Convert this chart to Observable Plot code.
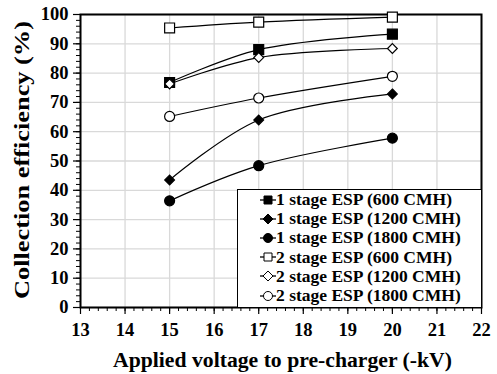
<!DOCTYPE html>
<html><head><meta charset="utf-8">
<script src="https://cdn.jsdelivr.net/npm/d3@7"></script>
<script src="https://cdn.jsdelivr.net/npm/@observablehq/plot@0.6"></script>
<style>
body{margin:0;background:#fff;}
#wrap{position:relative;width:497px;height:374px;}
#legend{position:absolute;left:237px;top:189px;width:245px;height:119px;border:1.5px solid #000;background:#fff;box-sizing:border-box;padding-top:0px;}
.row{display:flex;align-items:center;height:19.2px;font-size:17.5px;line-height:19px;padding-left:21px;color:#000;}
.row svg{flex:none;margin-right:0px;}
</style></head>
<body><div id="wrap"></div>
<script>
const voltage = [15, 17, 20];
const seriesNames = ["1 stage ESP (600 CMH)","1 stage ESP (1200 CMH)","1 stage ESP (1800 CMH)","2 stage ESP (600 CMH)","2 stage ESP (1200 CMH)","2 stage ESP (1800 CMH)"];
const s1_600  = [76.8, 88.0, 93.3];
const s1_1200 = [43.5, 64.0, 72.9];
const s1_1800 = [36.4, 48.4, 57.8];
const s2_600  = [95.4, 97.4, 99.1];
const s2_1200 = [76.3, 85.3, 88.4];
const s2_1800 = [65.2, 71.5, 78.9];
const seriesValues = [s1_600, s1_1200, s1_1800, s2_600, s2_1200, s2_1800];
const symbols = ["square","diamond2","circle","square","diamond2","circle"];
const fills = ["black","black","black","white","white","white"];
const radii = [5.6, 4.4, 5, 5.6, 4.4, 5];
const xTicks = [13,14,15,16,17,18,19,20,21,22];
const yTicks = [0,10,20,30,40,50,60,70,80,90,100];
const xTitle = "Applied voltage to pre-charger (-kV)";
const yTitle = "Collection efficiency (%)";

const FONT = "Liberation Serif";
const data = [];
seriesNames.forEach((n,i)=>voltage.forEach((v,j)=>data.push({series:n, idx:i, x:v, y:seriesValues[i][j]})));

const chart = Plot.plot({
  width:497, height:374,
  marginLeft:80, marginRight:16, marginTop:14, marginBottom:67,
  style:{fontSize:"18px", color:"black", background:"white"},
  x:{domain:[13,22], label:null},
  y:{domain:[0,100], label:null},
  marks:[
    Plot.gridX(xTicks, {stroke:"#d9d9d9", strokeOpacity:1, strokeWidth:1.3}),
    Plot.gridY(yTicks, {stroke:"#d9d9d9", strokeOpacity:1, strokeWidth:1.3}),
    Plot.axisX(d3.range(13, 22.001, 0.2), {tickSize:4, text:null, strokeWidth:1}),
    Plot.axisY(d3.range(0, 100.001, 2), {tickSize:4, text:null, strokeWidth:1}),
    Plot.axisX(xTicks, {tickSize:7, tickPadding:8, fontSize:18.5, label:null, strokeWidth:1.2}),
    Plot.axisY(yTicks, {tickSize:7, tickPadding:5, fontSize:18.5, label:null, strokeWidth:1.2}),
    Plot.frame({stroke:"black", strokeWidth:2}),
    Plot.line(data, {x:"x", y:"y", z:"series", stroke:"black", strokeWidth:1.2, curve:"catmull-rom"}),
    ...seriesNames.map((n,i)=>Plot.dot(data.filter(d=>d.idx===i), {x:"x", y:"y", symbol:()=>symbols[i], r:radii[i], fill:fills[i], stroke:"black", strokeWidth:1.2}))
  ]
});
chart.setAttribute("font-family", FONT);
chart.setAttribute("font-weight", "bold");
const svg = d3.select(chart);
svg.append("text").attr("x", 282.5).attr("y", 367).attr("text-anchor","middle")
  .attr("font-size", 21.5).attr("textLength", 339).attr("lengthAdjust","spacingAndGlyphs")
  .text(xTitle);
svg.append("text").attr("transform","translate(29,160) rotate(-90)").attr("text-anchor","middle")
  .attr("font-size", 21.5).attr("textLength", 278).attr("lengthAdjust","spacingAndGlyphs")
  .text(yTitle);
document.getElementById("wrap").appendChild(chart);

const leg = document.createElement("div"); leg.id="legend";
seriesNames.forEach((n,i)=>{
  const row = document.createElement("div"); row.className="row";
  const s = d3.create("svg").attr("width",17).attr("height",14);
  s.append("line").attr("x1",1).attr("x2",17).attr("y1",7).attr("y2",7).attr("stroke","black").attr("stroke-width",1.3);
  s.append("path").attr("transform","translate(9,7)")
   .attr("d", d3.symbol(symbols[i]==="square"?d3.symbolSquare:symbols[i]==="circle"?d3.symbolCircle:d3.symbolDiamond2, 64)())
   .attr("fill", fills[i]).attr("stroke","black").attr("stroke-width",1);
  row.appendChild(s.node());
  const t = document.createElement("span"); t.textContent = n; row.appendChild(t);
  leg.appendChild(row);
});
document.getElementById("wrap").appendChild(leg);
document.querySelectorAll("#wrap text, #wrap tspan, #wrap span, #wrap div, #wrap svg").forEach(el=>{
  el.style.setProperty("font-family", FONT, "important");
  el.style.setProperty("font-weight", "bold", "important");
});
</script></body></html>
